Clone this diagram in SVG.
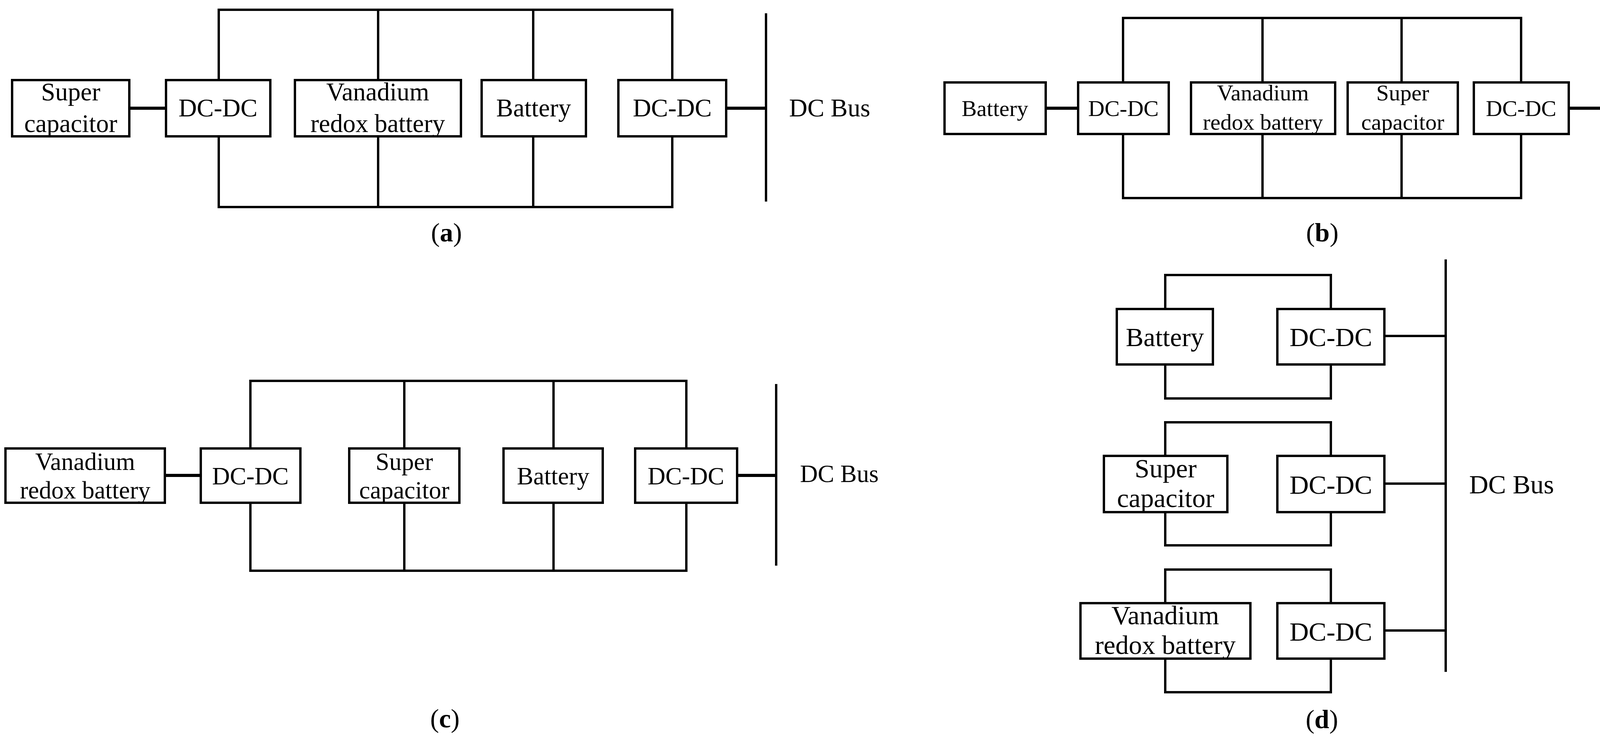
<svg xmlns="http://www.w3.org/2000/svg" width="4350" height="1902" viewBox="0 0 4350 1902">
<style>
rect{fill:#fff;stroke:#000;stroke-width:6}
line,polyline{stroke:#000;stroke-width:6;fill:none}
text{font-family:"Liberation Serif","Times New Roman",serif;font-size:65px;fill:#000;text-anchor:middle}
.bus{text-anchor:start}
.cap{font-size:68px}
.pb text{font-size:58px}
.pc text{font-size:63px}
.pd text{font-size:68px}
</style>
<rect width="4350" height="1902" style="fill:#fff;stroke:none"/>
<g id="connectors">
<polyline points="560,205 560,25 1721,25 1721,205"/>
<line x1="968" y1="25" x2="968" y2="205"/><line x1="1365" y1="25" x2="1365" y2="205"/>
<polyline points="560,349 560,530 1721,530 1721,349"/>
<line x1="968" y1="349" x2="968" y2="530"/><line x1="1365" y1="349" x2="1365" y2="530"/>
<line x1="331" y1="277" x2="425" y2="277" style="stroke-width:8"/>
<line x1="1859" y1="277" x2="1961" y2="277" style="stroke-width:8"/>
<line x1="1961" y1="34" x2="1961" y2="516"/>
<polyline points="2875,211 2875,46 3894,46 3894,211"/>
<line x1="3232" y1="46" x2="3232" y2="211"/><line x1="3588" y1="46" x2="3588" y2="211"/>
<polyline points="2875,343 2875,507 3894,507 3894,343"/>
<line x1="3232" y1="343" x2="3232" y2="507"/><line x1="3588" y1="343" x2="3588" y2="507"/>
<line x1="2677" y1="277" x2="2760" y2="277" style="stroke-width:8"/>
<line x1="4016" y1="277" x2="4099" y2="277" style="stroke-width:8"/>
<line x1="4099" y1="55" x2="4099" y2="495"/>
<polyline points="641,1148 641,975 1757,975 1757,1148"/>
<line x1="1035" y1="975" x2="1035" y2="1148"/><line x1="1417" y1="975" x2="1417" y2="1148"/>
<polyline points="641,1287 641,1461 1757,1461 1757,1287"/>
<line x1="1035" y1="1287" x2="1035" y2="1461"/><line x1="1417" y1="1287" x2="1417" y2="1461"/>
<line x1="422" y1="1217" x2="514" y2="1217" style="stroke-width:8"/>
<line x1="1887" y1="1217" x2="1987" y2="1217" style="stroke-width:8"/>
<line x1="1987" y1="983" x2="1987" y2="1448"/>
<polyline points="2983,791 2983,704 3407,704 3407,791"/>
<polyline points="2983,933 2983,1020 3407,1020 3407,933"/>
<polyline points="2983,1167 2983,1081 3407,1081 3407,1167"/>
<polyline points="2983,1311 2983,1396 3407,1396 3407,1311"/>
<polyline points="2983,1544 2983,1458 3407,1458 3407,1544"/>
<polyline points="2983,1686 2983,1772 3407,1772 3407,1686"/>
<line x1="3544" y1="860" x2="3701" y2="860"/>
<line x1="3544" y1="1238" x2="3701" y2="1238"/>
<line x1="3544" y1="1614" x2="3701" y2="1614"/>
<line x1="3701" y1="664" x2="3701" y2="1720"/>
</g>
<g class="pa">
<g id="a-supercap"><rect x="31" y="205" width="300" height="144"/><text x="181" y="257">Super</text><text x="181" y="338">capacitor</text></g>
<g id="a-dcdc1"><rect x="425" y="205" width="267" height="144"/><text x="558" y="298">DC-DC</text></g>
<g id="a-vrb"><rect x="755" y="205" width="425" height="144"/><text x="967" y="257">Vanadium</text><text x="967" y="338">redox battery</text></g>
<g id="a-battery"><rect x="1233" y="205" width="267" height="144"/><text x="1366" y="298">Battery</text></g>
<g id="a-dcdc2"><rect x="1583" y="205" width="276" height="144"/><text x="1721" y="298">DC-DC</text></g>
<g id="a-bus"><text class="bus" x="2020" y="298">DC Bus</text></g>
<g id="a-label"><text class="cap" x="1143" y="618">(<tspan font-weight="bold">a</tspan>)</text></g>
</g>
<g class="pb">
<g id="b-battery"><rect x="2418" y="211" width="259" height="132"/><text x="2547" y="297">Battery</text></g>
<g id="b-dcdc1"><rect x="2760" y="211" width="232" height="132"/><text x="2876" y="297">DC-DC</text></g>
<g id="b-vrb"><rect x="3049" y="211" width="369" height="132"/><text x="3233" y="257">Vanadium</text><text x="3233" y="332">redox battery</text></g>
<g id="b-supercap"><rect x="3450" y="211" width="282" height="132"/><text x="3591" y="257">Super</text><text x="3591" y="332">capacitor</text></g>
<g id="b-dcdc2"><rect x="3773" y="211" width="243" height="132"/><text x="3894" y="297">DC-DC</text></g>
<g id="b-bus"><text class="bus" x="4144" y="298" style="font-size:56px">DC Bus</text></g>
<g id="b-label"><text class="cap" x="3385" y="618" style="font-size:68px">(<tspan font-weight="bold">b</tspan>)</text></g>
</g>
<g class="pc">
<g id="c-vrb"><rect x="14" y="1148" width="408" height="139"/><text x="218" y="1203">Vanadium</text><text x="218" y="1276">redox battery</text></g>
<g id="c-dcdc1"><rect x="514" y="1148" width="255" height="139"/><text x="641" y="1240">DC-DC</text></g>
<g id="c-supercap"><rect x="894" y="1148" width="282" height="139"/><text x="1035" y="1203">Super</text><text x="1035" y="1276">capacitor</text></g>
<g id="c-battery"><rect x="1289" y="1148" width="254" height="139"/><text x="1416" y="1240">Battery</text></g>
<g id="c-dcdc2"><rect x="1626" y="1148" width="261" height="139"/><text x="1756" y="1240">DC-DC</text></g>
<g id="c-bus"><text class="bus" x="2048" y="1234">DC Bus</text></g>
<g id="c-label"><text class="cap" x="1139" y="1862" style="font-size:68px">(<tspan font-weight="bold">c</tspan>)</text></g>
</g>
<g class="pd">
<g id="d-battery"><rect x="2859" y="791" width="246" height="142"/><text x="2982" y="886">Battery</text></g>
<g id="d-dcdc1"><rect x="3270" y="791" width="274" height="142"/><text x="3407" y="886">DC-DC</text></g>
<g id="d-supercap"><rect x="2826" y="1167" width="316" height="144"/><text x="2984" y="1222">Super</text><text x="2984" y="1298">capacitor</text></g>
<g id="d-dcdc2"><rect x="3270" y="1167" width="274" height="144"/><text x="3407" y="1264">DC-DC</text></g>
<g id="d-vrb"><rect x="2766" y="1544" width="435" height="142"/><text x="2983" y="1598">Vanadium</text><text x="2983" y="1674">redox battery</text></g>
<g id="d-dcdc3"><rect x="3270" y="1544" width="274" height="142"/><text x="3407" y="1640">DC-DC</text></g>
<g id="d-bus"><text class="bus" x="3761" y="1263">DC Bus</text></g>
<g id="d-label"><text class="cap" x="3384" y="1864" style="font-size:68px">(<tspan font-weight="bold">d</tspan>)</text></g>
</g>
</svg>
